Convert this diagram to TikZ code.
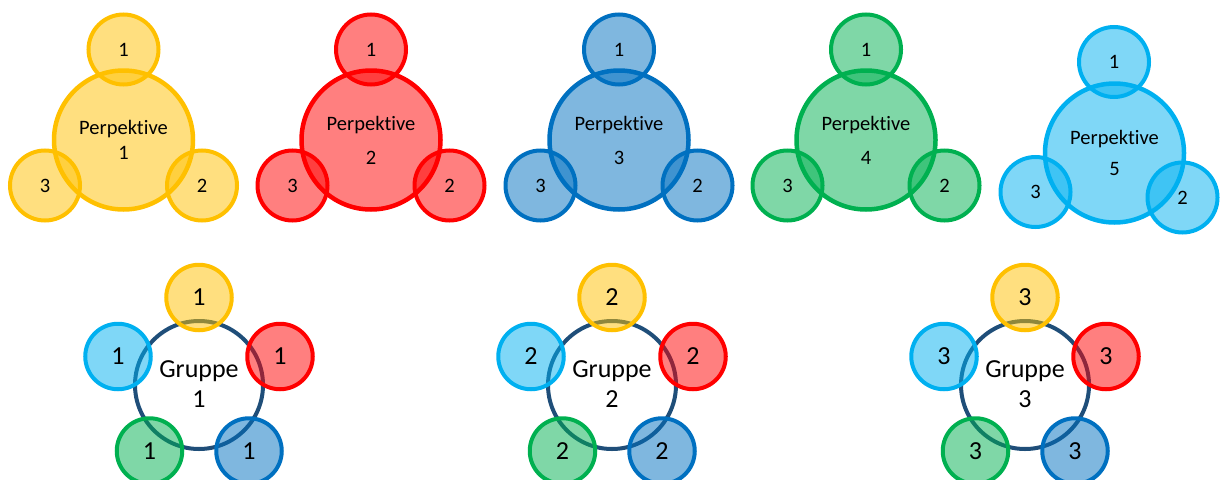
\documentclass[tikz,border=0pt]{standalone}
\usepackage{fontspec}
\setmainfont{Carlito}[Ligatures=NoCommon]
\definecolor{cYel}{HTML}{FFC000}
\definecolor{cRed}{HTML}{FF0000}
\definecolor{cBlu}{HTML}{0070C0}
\definecolor{cGrn}{HTML}{00B050}
\definecolor{cCyn}{HTML}{00B0F0}
\definecolor{cRing}{HTML}{1F4E79}
\tikzset{
  disc/.style={circle, draw=#1, fill=#1, fill opacity=0.5, draw opacity=1,
    text opacity=1, inner sep=0pt, align=center, text=black},
  bigdisc/.style={disc=#1, line width=4.5pt, minimum size=139pt,
    font=\fontsize{20.5}{24.6}\selectfont},
  smalldisc/.style={disc=#1, line width=4pt, minimum size=70pt,
    font=\fontsize{20.5}{24.6}\selectfont},
  memberdisc/.style={disc=#1, line width=4pt, minimum size=65.5pt,
    font=\fontsize{26}{30}\selectfont},
  groupring/.style={circle, draw=cRing, line width=4pt, minimum size=128pt,
    inner sep=0pt, align=center, font=\fontsize{26}{30}\selectfont},
}
\begin{document}
\begin{tikzpicture}[x=1pt,y=-1pt]
\useasboundingbox (0,0) rectangle (1220,479);

% perspectives 1-4: big circle with three satellites
\foreach \i/\cx/\col/\gap in {1/123.5/cYel/0pt, 2/371/cRed/9.4pt, 3/619/cBlu/9.4pt, 4/866/cGrn/9.4pt}{
  \node[bigdisc=\col] (p\i) at (\cx,140) {Perpektive\\[\gap]\i};
  \node[smalldisc=\col] (p\i-1) at (\cx,49.5) {1};
  \node[smalldisc=\col] (p\i-3) at (\cx-78.5,185.5) {3};
  \node[smalldisc=\col] (p\i-2) at (\cx+78.5,185.5) {2};
}

% perspective 5
\node[bigdisc=cCyn] (p5) at (1114.5,153) {Perpektive\\[6.4pt]5};
\node[smalldisc=cCyn] (p5-1) at (1114,62) {1};
\node[smalldisc=cCyn] (p5-3) at (1035.5,192) {3};
\node[smalldisc=cCyn] (p5-2) at (1182.5,197.5) {2};

% groups: ring with one member from every perspective
\foreach \g/\cx in {1/199, 2/612, 3/1025}{
  \node[groupring] (g\g) at (\cx,385) {\raisebox{2pt}{Gruppe}\\\raisebox{2pt}{\g}};
  \node[memberdisc=cYel] (g\g-y) at (\cx,297.5) {\g};
  \node[memberdisc=cCyn] (g\g-c) at (\cx-81,356.5) {\g};
  \node[memberdisc=cRed] (g\g-r) at (\cx+81,356.5) {\g};
  \node[memberdisc=cGrn] (g\g-g) at (\cx-49.5,451) {\g};
  \node[memberdisc=cBlu] (g\g-b) at (\cx+50,451) {\g};
}
\end{tikzpicture}
\end{document}
